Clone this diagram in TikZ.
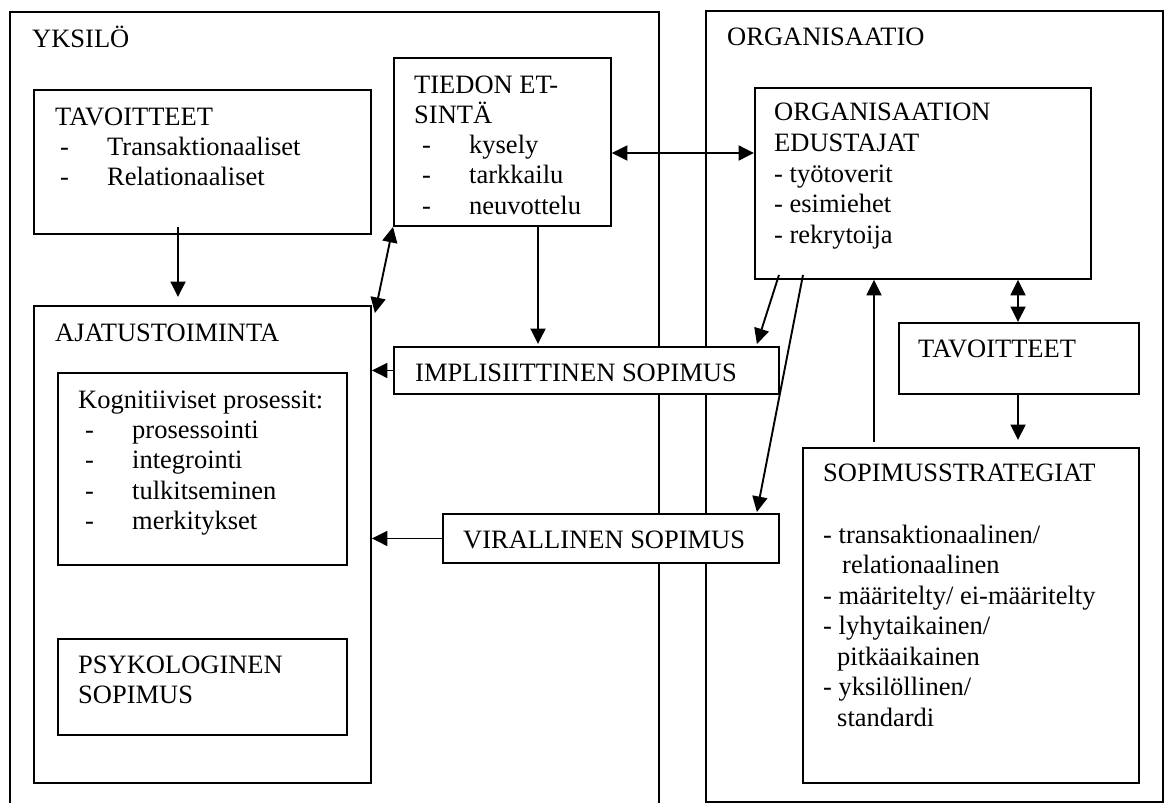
\documentclass[tikz,border=0pt]{standalone}
\usepackage{fontspec}
\setmainfont{Liberation Serif}
\usetikzlibrary{arrows.meta,calc}

% list entry: dash, then the text at a tab stop
\newcommand{\dashitem}[1]{\makebox[47pt][l]{-}#1}

\tikzset{
  frame/.style={draw, fill=white, line width=1.9pt, inner sep=0pt, anchor=north west},
  lbl/.style={inner sep=0pt, anchor=base west, font=\fontsize{26.5}{30.5}\selectfont},
  tip/.tip={Triangle[length=15.5pt,width=15pt]},
  arr/.style={line width=1.9pt, -tip},
  dbl/.style={line width=1.9pt, tip-tip},
}

% box from its top-left corner (x1,y1) to its bottom-right corner (x2,y2)
\newcommand{\boxat}[5]{%
  \node[frame, minimum width={(#4-#2)*1pt}, minimum height={(#5-#3)*1pt}] (#1) at (#2,#3) {};}

\begin{document}
\begin{tikzpicture}[x=1pt, y=-1pt]
\useasboundingbox (0,0) rectangle (1165,803);

% ---- the two main areas
\boxat{yksilo}{9}{11}{658}{814}
\boxat{org}{705}{10}{1162}{801}

% ---- boxes on the individual side
\boxat{tav1}{33}{89}{370}{233}
\boxat{tiedon}{393}{57}{610}{225}
\boxat{ajatus}{33}{305}{370}{782}
\boxat{kogn}{57}{372}{346}{564}
\boxat{psyk}{57}{638}{346}{734}

% ---- contracts in the middle, covering the area borders
\boxat{impl}{393}{346}{778}{393}
\boxat{viral}{442}{513}{778}{562}

% ---- boxes on the organisation side
\boxat{orged}{754}{87}{1090}{278}
\boxat{tav2}{898}{322}{1138}{393}
\boxat{sopst}{802}{447}{1138}{782}

% ---- texts
\node[lbl] (t-yksilo) at (32,47) {YKSILÖ};
\node[lbl] (t-org) at (727,45) {ORGANISAATIO};

\node[lbl] (t-tav1) at (55,125) {TAVOITTEET};
\node[lbl] (t-tav1a) at (60,155) {\dashitem{Transaktionaaliset}};
\node[lbl] (t-tav1b) at (60,185) {\dashitem{Relationaaliset}};

\node[lbl] (t-tied1) at (414,93) {TIEDON ET-};
\node[lbl] (t-tied2) at (414,123) {SINTÄ};
\node[lbl] (t-tieda) at (422,153) {\dashitem{kysely}};
\node[lbl] (t-tiedb) at (422,183.5) {\dashitem{tarkkailu}};
\node[lbl] (t-tiedc) at (422,214) {\dashitem{neuvottelu}};

\node[lbl] (t-org1) at (774,120) {ORGANISAATION};
\node[lbl] (t-org2) at (774,151) {EDUSTAJAT};
\node[lbl] (t-orga) at (774,182) {- työtoverit};
\node[lbl] (t-orgb) at (774,212.5) {- esimiehet};
\node[lbl] (t-orgc) at (774,243) {- rekrytoija};

\node[lbl] (t-ajat) at (55,341) {AJATUSTOIMINTA};

\node[lbl] (t-kogn) at (78,408) {Kognitiiviset prosessit:};
\node[lbl] (t-kogna) at (85,438) {\dashitem{prosessointi}};
\node[lbl] (t-kognb) at (85,468.5) {\dashitem{integrointi}};
\node[lbl] (t-kognc) at (85,499) {\dashitem{tulkitseminen}};
\node[lbl] (t-kognd) at (85,529) {\dashitem{merkitykset}};

\node[lbl] (t-psyk1) at (78,673) {PSYKOLOGINEN};
\node[lbl] (t-psyk2) at (78,703) {SOPIMUS};

\node[lbl] (t-impl) at (415,381) {IMPLISIITTINEN SOPIMUS};
\node[lbl] (t-viral) at (463,548) {VIRALLINEN SOPIMUS};

\node[lbl] (t-tav2) at (918,357) {TAVOITTEET};

\node[lbl] (t-sop) at (823,481) {SOPIMUSSTRATEGIAT};
\node[lbl] (t-sopa) at (823,543) {- transaktionaalinen/};
\node[lbl] (t-sopb) at (842,573.5) {relationaalinen};
\node[lbl] (t-sopc) at (823,604) {- määritelty/ ei-määritelty};
\node[lbl] (t-sopd) at (823,634.5) {- lyhytaikainen/};
\node[lbl] (t-sope) at (837,665) {pitkäaikainen};
\node[lbl] (t-sopf) at (823,695.5) {- yksilöllinen/};
\node[lbl] (t-sopg) at (837,726) {standardi};

% ---- connectors
\coordinate (a1) at ($(tav1.south west)+(145,0)$);
\draw[arr, shorten <=-8pt, shorten >=8pt] (a1) -- (a1 |- ajatus.north);

\draw[dbl] ($(ajatus.north east)+(3,8)$) -- (tiedon.south west);

\coordinate (a3) at ($(tiedon.north east)+(0,96)$);
\draw[dbl] (a3) -- (a3 -| orged.west);

\coordinate (a4) at ($(tiedon.south west)+(145,0)$);
\draw[arr, shorten >=2pt] (a4) -- (a4 |- impl.north);

\draw[arr] ($(orged.south west)+(25,-5)$) -- ($(impl.north east)+(-23,-2)$);
\draw[arr] ($(orged.south west)+(49,-5)$) -- ($(viral.north east)+(-23,-1)$);

\draw[arr] (impl.west) -- (impl.west -| ajatus.east);
\draw[arr] (viral.west) -- (viral.west -| ajatus.east);

\coordinate (a9) at ($(sopst.north west)+(72,0)$);
\draw[arr, shorten <=5pt] (a9) -- (a9 |- orged.south);

\coordinate (a10) at ($(tav2.north west)+(120,0)$);
\draw[dbl] (a10 |- orged.south) -- (a10);

\coordinate (a11) at ($(tav2.south west)+(120,0)$);
\draw[arr, shorten >=7pt] (a11) -- (a11 |- sopst.north);
\end{tikzpicture}
\end{document}
